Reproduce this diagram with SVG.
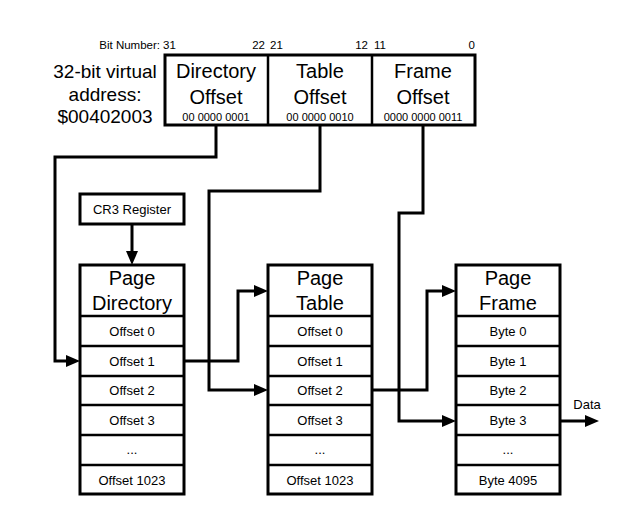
<svg xmlns="http://www.w3.org/2000/svg" width="640" height="529" viewBox="0 0 640 529">
<style>
text{font-family:"Liberation Sans",Arial,sans-serif;fill:#000;text-anchor:middle;dominant-baseline:central}
.box{fill:#fff;stroke:#000;stroke-width:3}
.div{stroke:#000;stroke-width:2.5}
.big{font-size:20px}
.lbl{font-size:19px}
.row{font-size:13px}
.bin{font-size:11px}
.bit{font-size:11.5px}
.con{fill:none;stroke:#000;stroke-width:3}
</style>
<defs>
<marker id="ah" viewBox="0 0 14 12" refX="8" refY="6" markerWidth="14" markerHeight="12" markerUnits="userSpaceOnUse" orient="auto">
<path d="M0,0 L14,6 L0,12 z" fill="#000"/>
</marker>
</defs>
<rect width="640" height="529" fill="#fff"/>

<g id="bitnumbers">
<text class="bit" x="160" y="45" style="text-anchor:end">Bit Number:</text>
<text class="bit" x="163" y="45" style="text-anchor:start">31</text>
<text class="bit" x="265" y="45" style="text-anchor:end">22</text>
<text class="bit" x="270" y="45" style="text-anchor:start">21</text>
<text class="bit" x="368" y="45" style="text-anchor:end">12</text>
<text class="bit" x="374" y="45" style="text-anchor:start">11</text>
<text class="bit" x="475" y="45" style="text-anchor:end">0</text>
</g>

<g id="address-label">
<text class="lbl" x="105" y="71">32-bit virtual</text>
<text class="lbl" x="105" y="94">address:</text>
<text class="lbl" x="105" y="116">$00402003</text>
</g>

<g id="address">
<rect class="box" x="165" y="55" width="310" height="70"/>
<line class="div" x1="268" y1="55" x2="268" y2="125"/>
<line class="div" x1="372" y1="55" x2="372" y2="125"/>
<text class="big" x="216" y="71">Directory</text>
<text class="big" x="216" y="97">Offset</text>
<text class="bin" x="216" y="117">00 0000 0001</text>
<text class="big" x="320" y="71">Table</text>
<text class="big" x="320" y="97">Offset</text>
<text class="bin" x="320" y="117">00 0000 0010</text>
<text class="big" x="423" y="71">Frame</text>
<text class="big" x="423" y="97">Offset</text>
<text class="bin" x="423" y="117">0000 0000 0011</text>
</g>

<g id="cr3">
<rect class="box" x="80" y="194" width="104" height="30"/>
<text class="row" x="132" y="209">CR3 Register</text>
</g>

<g id="page-directory">
<rect class="box" x="80" y="265" width="104" height="229"/>
<line class="div" x1="80" y1="316" x2="184" y2="316"/>
<line class="div" x1="80" y1="346" x2="184" y2="346"/>
<line class="div" x1="80" y1="376" x2="184" y2="376"/>
<line class="div" x1="80" y1="405" x2="184" y2="405"/>
<line class="div" x1="80" y1="435" x2="184" y2="435"/>
<line class="div" x1="80" y1="465" x2="184" y2="465"/>
<text class="big" x="132" y="278">Page</text>
<text class="big" x="132" y="303">Directory</text>
<text class="row" x="132" y="331">Offset 0</text>
<text class="row" x="132" y="361">Offset 1</text>
<text class="row" x="132" y="390">Offset 2</text>
<text class="row" x="132" y="420">Offset 3</text>
<text class="row" x="132" y="449">...</text>
<text class="row" x="132" y="480">Offset 1023</text>
</g>

<g id="page-table">
<rect class="box" x="268" y="265" width="104" height="229"/>
<line class="div" x1="268" y1="316" x2="372" y2="316"/>
<line class="div" x1="268" y1="346" x2="372" y2="346"/>
<line class="div" x1="268" y1="376" x2="372" y2="376"/>
<line class="div" x1="268" y1="405" x2="372" y2="405"/>
<line class="div" x1="268" y1="435" x2="372" y2="435"/>
<line class="div" x1="268" y1="465" x2="372" y2="465"/>
<text class="big" x="320" y="278">Page</text>
<text class="big" x="320" y="303">Table</text>
<text class="row" x="320" y="331">Offset 0</text>
<text class="row" x="320" y="361">Offset 1</text>
<text class="row" x="320" y="390">Offset 2</text>
<text class="row" x="320" y="420">Offset 3</text>
<text class="row" x="320" y="449">...</text>
<text class="row" x="320" y="480">Offset 1023</text>
</g>

<g id="page-frame">
<rect class="box" x="456" y="265" width="104" height="229"/>
<line class="div" x1="456" y1="316" x2="560" y2="316"/>
<line class="div" x1="456" y1="346" x2="560" y2="346"/>
<line class="div" x1="456" y1="376" x2="560" y2="376"/>
<line class="div" x1="456" y1="405" x2="560" y2="405"/>
<line class="div" x1="456" y1="435" x2="560" y2="435"/>
<line class="div" x1="456" y1="465" x2="560" y2="465"/>
<text class="big" x="508" y="278">Page</text>
<text class="big" x="508" y="303">Frame</text>
<text class="row" x="508" y="331">Byte 0</text>
<text class="row" x="508" y="361">Byte 1</text>
<text class="row" x="508" y="390">Byte 2</text>
<text class="row" x="508" y="420">Byte 3</text>
<text class="row" x="508" y="449">...</text>
<text class="row" x="508" y="480">Byte 4095</text>
</g>

<g id="connectors">
<path class="con" d="M216,125 V157 H55 V361 H74" marker-end="url(#ah)"/>
<path class="con" d="M320,125 V191 H209 V390 H262" marker-end="url(#ah)"/>
<path class="con" d="M423,125 V213 H399 V421 H450" marker-end="url(#ah)"/>
<path class="con" d="M132,224 V259" marker-end="url(#ah)"/>
<path class="con" d="M184,361 H238 V291 H262" marker-end="url(#ah)"/>
<path class="con" d="M372,390 H427 V291 H450" marker-end="url(#ah)"/>
<path class="con" d="M560,421 H593" marker-end="url(#ah)"/>
<text class="row" x="587" y="404">Data</text>
</g>
</svg>
